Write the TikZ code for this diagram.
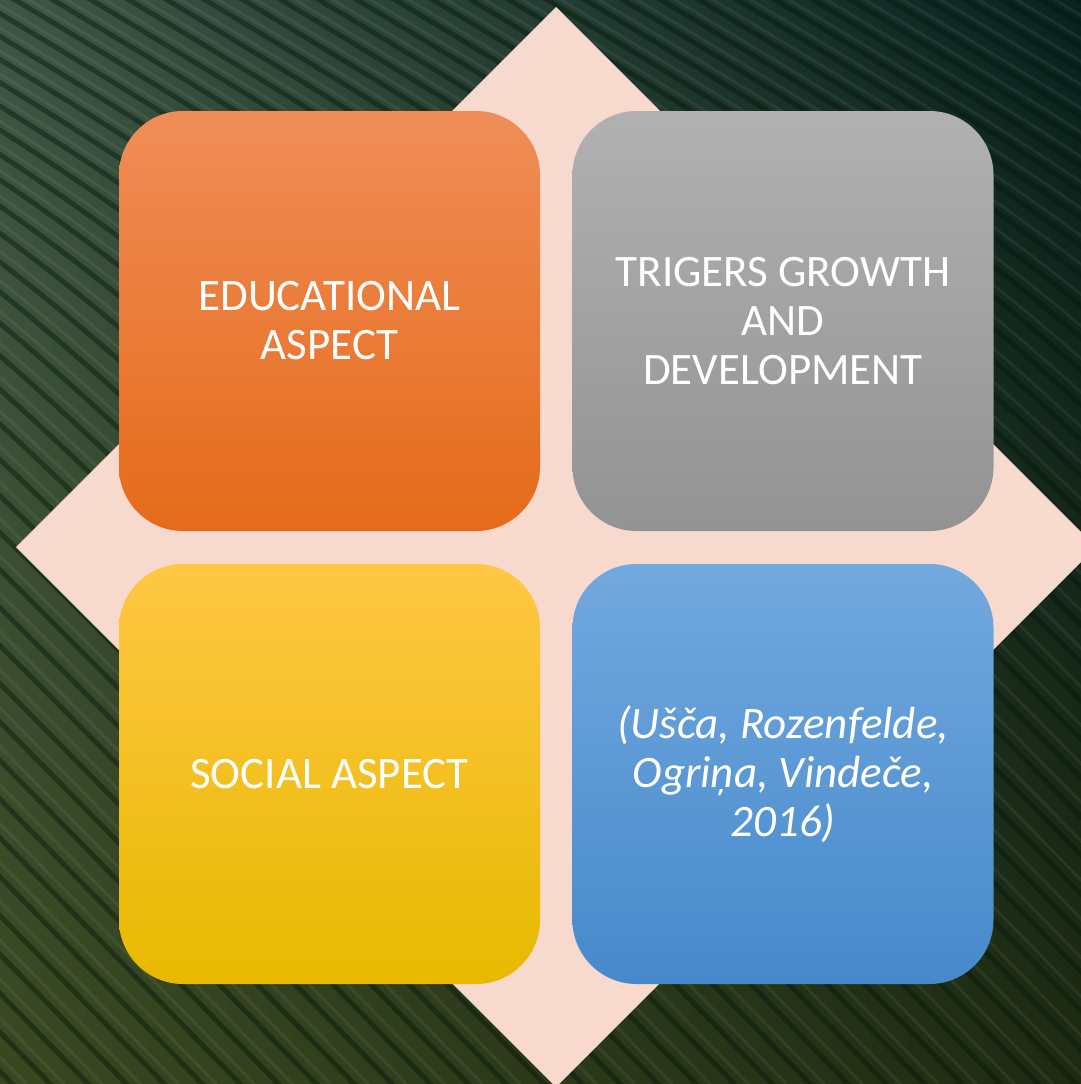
\documentclass[tikz,border=0pt]{standalone}
\usepackage{fontspec}
\setmainfont{Carlito}
\usetikzlibrary{shadings}
\definecolor{diamondpink}{HTML}{F8D9CE}
\definecolor{bgA}{HTML}{3E5646}
\definecolor{bgB}{HTML}{0A2320}
\definecolor{bgC}{HTML}{394820}
\definecolor{bgD}{HTML}{1F2B12}
\definecolor{stripe}{HTML}{04180C}
\definecolor{orA}{HTML}{F08D57}
\definecolor{orB}{HTML}{F47F30}
\definecolor{orC}{HTML}{E56B1A}
\definecolor{grA}{HTML}{B1B1B1}
\definecolor{grB}{HTML}{A2A2A2}
\definecolor{grC}{HTML}{939393}
\definecolor{yeA}{HTML}{FFC744}
\definecolor{yeB}{HTML}{FDC406}
\definecolor{yeC}{HTML}{E8B900}
\definecolor{blA}{HTML}{72A9DF}
\definecolor{blB}{HTML}{5A9AD8}
\definecolor{blC}{HTML}{4689CB}
\tikzset{
  quad/.style={rectangle, rounded corners=64pt, minimum width=421pt, minimum height=420pt,
    inner sep=0pt, outer sep=0pt, text=white, align=center,
    font=\fontsize{45}{49}\selectfont},
}
\begin{document}
\begin{tikzpicture}[x=1pt,y=-1pt]
\useasboundingbox (0,0) rectangle (1081,1084);
\clip (0,0) rectangle (1081,1084);
% background
\shade[upper left=bgA, upper right=bgB, lower left=bgC, lower right=bgD] (0,0) rectangle (1081,1084);
\foreach \a in {-1500,-1462,...,1100} {
  \draw[stripe, line width=5pt, opacity=0.45] (\a,-20) .. controls (\a+500,280) .. (\a+1300,1100);
  \draw[white, line width=3pt, opacity=0.06] (\a+14,-20) .. controls (\a+514,280) .. (\a+1314,1100);
}
% diamond
\fill[diamondpink] (556,7) -- (1096,547) -- (556,1087) -- (16,547) -- cycle;
% boxes
\node[quad, top color=orA, middle color=orB, bottom color=orC] (edu) at (329.5,321) {EDUCATIONAL\\ASPECT};
\node[quad, top color=grA, middle color=grB, bottom color=grC] (grow) at (783,321) {TRIGERS GROWTH\\AND\\DEVELOPMENT};
\node[quad, top color=yeA, middle color=yeB, bottom color=yeC] (soc) at (329.5,774) {SOCIAL ASPECT};
\node[quad, top color=blA, middle color=blB, bottom color=blC, font=\fontsize{45}{49}\selectfont\itshape] (ref) at (783,774) {(Ušča, Rozenfelde,\\Ogriņa, Vindeče,\\2016)};
\end{tikzpicture}
\end{document}
